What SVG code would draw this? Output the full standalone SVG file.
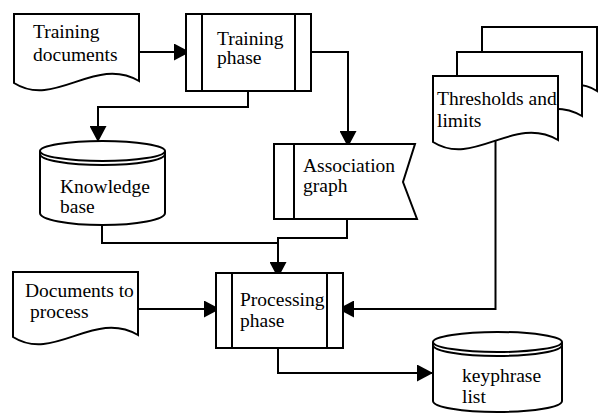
<svg xmlns="http://www.w3.org/2000/svg" width="600" height="413" viewBox="0 0 600 413">
<style>
.s{fill:#fff;stroke:#000;stroke-width:2;stroke-linejoin:miter}
.l{fill:none;stroke:#000;stroke-width:2}
.c{fill:none;stroke:#000;stroke-width:2;marker-end:url(#ah)}
text{font-family:"Liberation Serif","Times New Roman",serif;font-size:19.5px;fill:#000}
</style>
<defs>
<marker id="ah" markerUnits="userSpaceOnUse" markerWidth="17" markerHeight="17" refX="16" refY="8.5" orient="auto">
<path d="M0,0 L16,8.5 L0,17 Z" fill="#000"/>
</marker>
</defs>
<rect width="600" height="413" fill="#fff"/>
<g id="connectors">
<path class="c" d="M139,52 H190"/>
<path class="c" d="M248,91 V107 H98 V142"/>
<path class="c" d="M311,52 H348 V147"/>
<path class="l" d="M102,225 V243 H278"/>
<path class="c" d="M347,219 V238 H278 V278"/>
<path class="c" d="M139,309 H220"/>
<path class="c" d="M495.5,140 V309 H338"/>
<path class="c" d="M278,348 V373 H433"/>
</g>
<g id="training-documents">
<path class="s" d="M14,14 H139 V81 C95,55 55,109 14,83 Z"/>
<text x="33" y="38">Training</text>
<text x="33" y="61">documents</text>
</g>
<g id="training-phase">
<rect class="s" x="186" y="14" width="125" height="77"/>
<path class="l" d="M202,14 V91 M295,14 V91"/>
<text x="217" y="45">Training</text>
<text x="217" y="64">phase</text>
</g>
<g id="knowledge-base">
<path class="s" d="M40,151 V213 A62.5,12 0 0 0 165,213 V151"/>
<ellipse class="s" cx="102.5" cy="151" rx="62.5" ry="10"/>
<path class="l" d="M40,154 A62.5,11 0 0 0 165,154"/>
<text x="60" y="193">Knowledge</text>
<text x="60" y="213">base</text>
</g>
<g id="association-graph">
<path class="s" d="M274,144 H415 L403,182 L417,219 H274 Z"/>
<path class="l" d="M294,144 V219"/>
<text x="303" y="172">Association</text>
<text x="303" y="192">graph</text>
</g>
<g id="thresholds-and-limits">
<path class="s" d="M482,27 H597 V91 C560,67 520,119 482,93 Z"/>
<path class="s" d="M457,52 H582 V116 C538,90 498,144 457,118 Z"/>
<path class="s" d="M433,76 H558 V140 C514,114 474,168 433,142 Z"/>
<text x="437" y="105">Thresholds and</text>
<text x="437" y="127">limits</text>
</g>
<g id="documents-to-process">
<path class="s" d="M13,272 H138 V335 C94,309 54,363 13,337 Z"/>
<text x="25" y="297">Documents to</text>
<text x="30" y="318">process</text>
</g>
<g id="processing-phase">
<rect class="s" x="216" y="273" width="127" height="75"/>
<path class="l" d="M232,273 V348 M327,273 V348"/>
<text x="240" y="306">Processing</text>
<text x="240" y="327">phase</text>
</g>
<g id="keyphrase-list">
<path class="s" d="M433,342 V401 A64.5,11 0 0 0 562,401 V342"/>
<ellipse class="s" cx="497.5" cy="342" rx="64.5" ry="10"/>
<path class="l" d="M433,345 A64.5,11 0 0 0 562,345"/>
<text x="462" y="382">keyphrase</text>
<text x="462" y="403">list</text>
</g>
</svg>
